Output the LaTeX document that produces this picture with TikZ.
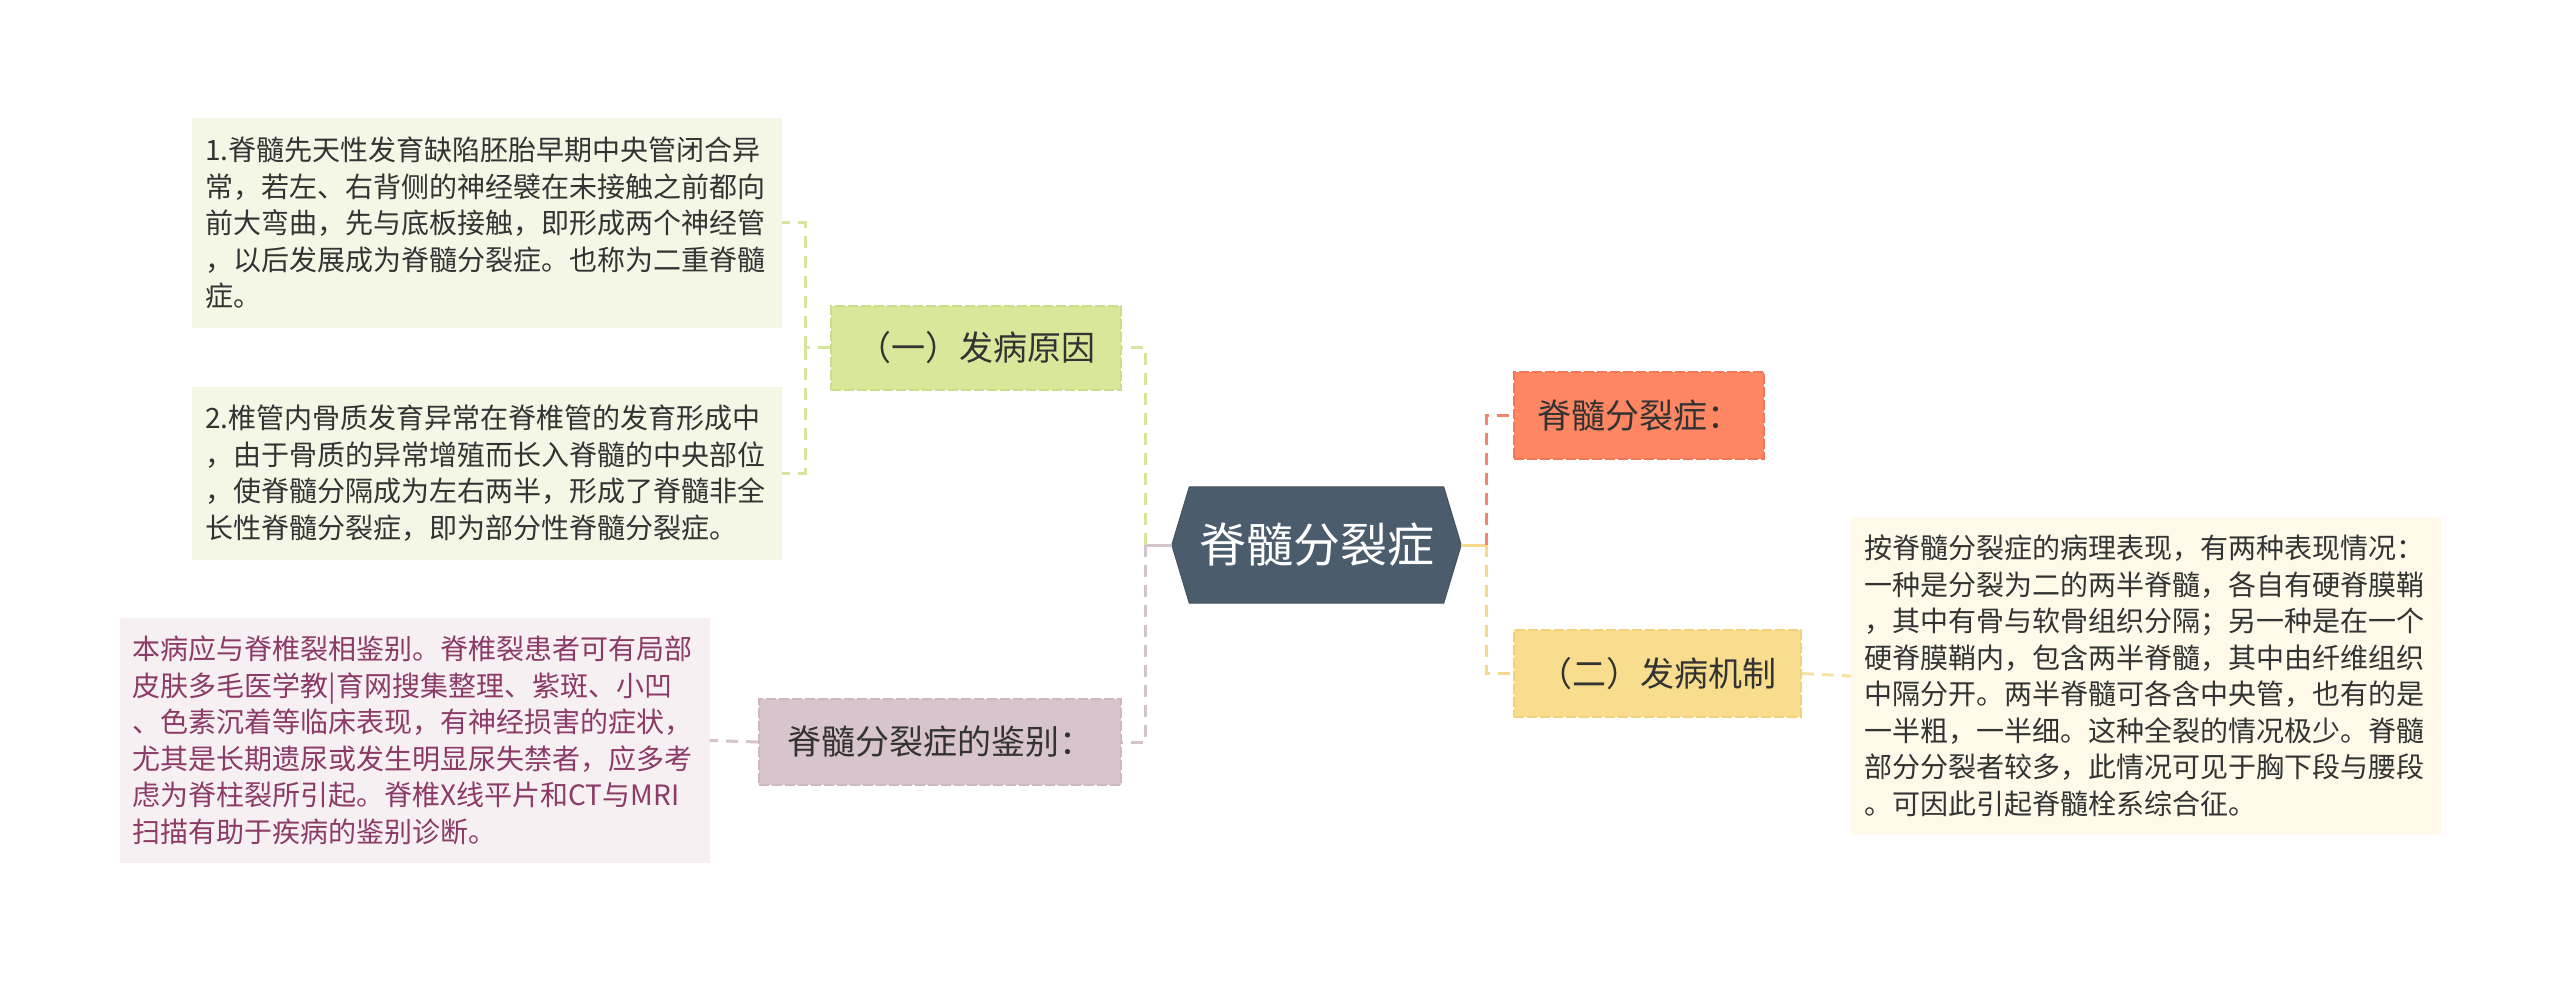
\documentclass[tikz,border=0pt]{standalone}
\usepackage{fontspec}
\setmainfont{Noto Sans CJK SC}
\usetikzlibrary{calc,backgrounds}
\definecolor{hexfill}{HTML}{4B5C6C}
\definecolor{hexline}{HTML}{44535F}
\definecolor{redfill}{HTML}{FF8663}
\definecolor{redline}{HTML}{F2785A}
\definecolor{redconn}{HTML}{F2866A}
\definecolor{tanfill}{HTML}{F7DD8D}
\definecolor{tanline}{HTML}{F0D27E}
\definecolor{tanconn}{HTML}{F5DA8C}
\definecolor{greenfill}{HTML}{D8E799}
\definecolor{greenline}{HTML}{CCDD88}
\definecolor{greenconn}{HTML}{D6E59C}
\definecolor{pinkfill}{HTML}{D8C4CD}
\definecolor{pinkline}{HTML}{CDB7C1}
\definecolor{pinkconn}{HTML}{D4C3CB}
\definecolor{lgreen}{HTML}{F4F7E6}
\definecolor{lpink}{HTML}{F6F0F3}
\definecolor{lyellow}{HTML}{FEF9E9}
\definecolor{txt}{HTML}{333333}
\definecolor{ptxt}{HTML}{8C3A66}
\begin{document}
\begin{tikzpicture}[x=1pt,y=-1pt,
  hexnode/.style={rectangle, inner sep=0pt, minimum width=289, minimum height=116, text=white, font=\fontsize{47}{56}\selectfont},
  labelbox/.style={rectangle, inner sep=0pt, text=txt, line width=2pt, dash pattern=on 10pt off 3pt, font=\fontsize{34}{40}\selectfont},
  textbox/.style={rectangle, inner xsep=13pt, inner ysep=0pt, text width=564pt, align=left, text=txt, font=\fontsize{28}{36.5}\selectfont},
  conn/.style={line width=3pt, dash pattern=on 12pt off 8pt},
  solidconn/.style={line width=3pt}
]
\useasboundingbox (0,0) rectangle (2560,984);

\node[hexnode] (root) at (1316.5,545) {脊髓分裂症};
\begin{scope}[on background layer]
\fill[white] (0,0) rectangle (2560,984);
\filldraw[fill=hexfill, draw=hexline, line width=1pt] (root.west) -- ($(root.north west)+(17.5,0)$) -- ($(root.north east)+(-17.5,0)$) -- (root.east) -- ($(root.south east)+(-17.5,0)$) -- ($(root.south west)+(17.5,0)$) -- cycle;
\end{scope}

\node[labelbox, fill=redfill, draw=redline, minimum width=250, minimum height=87] (syn) at (1639,415.5) {脊髓分裂症：};
\node[labelbox, fill=tanfill, draw=tanline, minimum width=287, minimum height=87] (mech) at (1657.5,673.5) {（二）发病机制};
\node[labelbox, fill=greenfill, draw=greenline, minimum width=290, minimum height=84] (cause) at (976,348) {（一）发病原因};
\node[labelbox, fill=pinkfill, draw=pinkline, minimum width=362, minimum height=86] (diff) at (940,742) {脊髓分裂症的鉴别：};

\node[textbox, fill=lgreen, minimum height=210] (c1) at (487,223) {1.脊髓先天性发育缺陷胚胎早期中央管闭合异\\常，若左、右背侧的神经襞在未接触之前都向\\前大弯曲，先与底板接触，即形成两个神经管\\，以后发展成为脊髓分裂症。也称为二重脊髓\\症。};
\node[textbox, fill=lgreen, minimum height=173] (c2) at (487,473) {2.椎管内骨质发育异常在脊椎管的发育形成中\\，由于骨质的异常增殖而长入脊髓的中央部位\\，使脊髓分隔成为左右两半，形成了脊髓非全\\长性脊髓分裂症，即为部分性脊髓分裂症。};
\node[textbox, fill=lpink, text=ptxt, minimum height=245] (d1) at (414.5,740.5) {本病应与脊椎裂相鉴别。脊椎裂患者可有局部\\皮肤多毛医学教|育网搜集整理、紫斑、小凹\\、色素沉着等临床表现，有神经损害的症状，\\尤其是长期遗尿或发生明显尿失禁者，应多考\\虑为脊柱裂所引起。脊椎X线平片和CT与MRI\\扫描有助于疾病的鉴别诊断。};
\node[textbox, fill=lyellow, minimum height=318] (m1) at (2146,676) {按脊髓分裂症的病理表现，有两种表现情况：\\一种是分裂为二的两半脊髓，各自有硬脊膜鞘\\，其中有骨与软骨组织分隔；另一种是在一个\\硬脊膜鞘内，包含两半脊髓，其中由纤维组织\\中隔分开。两半脊髓可各含中央管，也有的是\\一半粗，一半细。这种全裂的情况极少。脊髓\\部分分裂者较多，此情况可见于胸下段与腰段\\。可因此引起脊髓栓系综合征。};

% right side connectors
\coordinate (jr) at ($(root.east)+(25,0)$);
\draw[solidconn, draw=tanconn] (root.east) -- (jr);
\draw[conn, draw=redconn] (jr) |- (syn.west);
\draw[conn, draw=tanconn] (jr) |- (mech.west);
\draw[conn, draw=tanconn!80!white] (mech.east) -- (m1.west);

% left side connectors
\coordinate (jl) at ($(root.west)+(-26,0)$);
\draw[solidconn, draw=pinkconn] (root.west) -- (jl);
\draw[conn, draw=greenconn] (jl) |- (cause.east);
\draw[conn, draw=pinkconn] (jl) |- (diff.east);
\draw[conn, draw=pinkconn] (diff.west) -- (d1.east);

\coordinate (jc) at ($(cause.west)+(-25,0)$);
\draw[conn, draw=greenconn] (cause.west) -- (jc);
\draw[conn, draw=greenconn] (jc) |- (c1.east);
\draw[conn, draw=greenconn] (jc) |- (c2.east);
\end{tikzpicture}
\end{document}
